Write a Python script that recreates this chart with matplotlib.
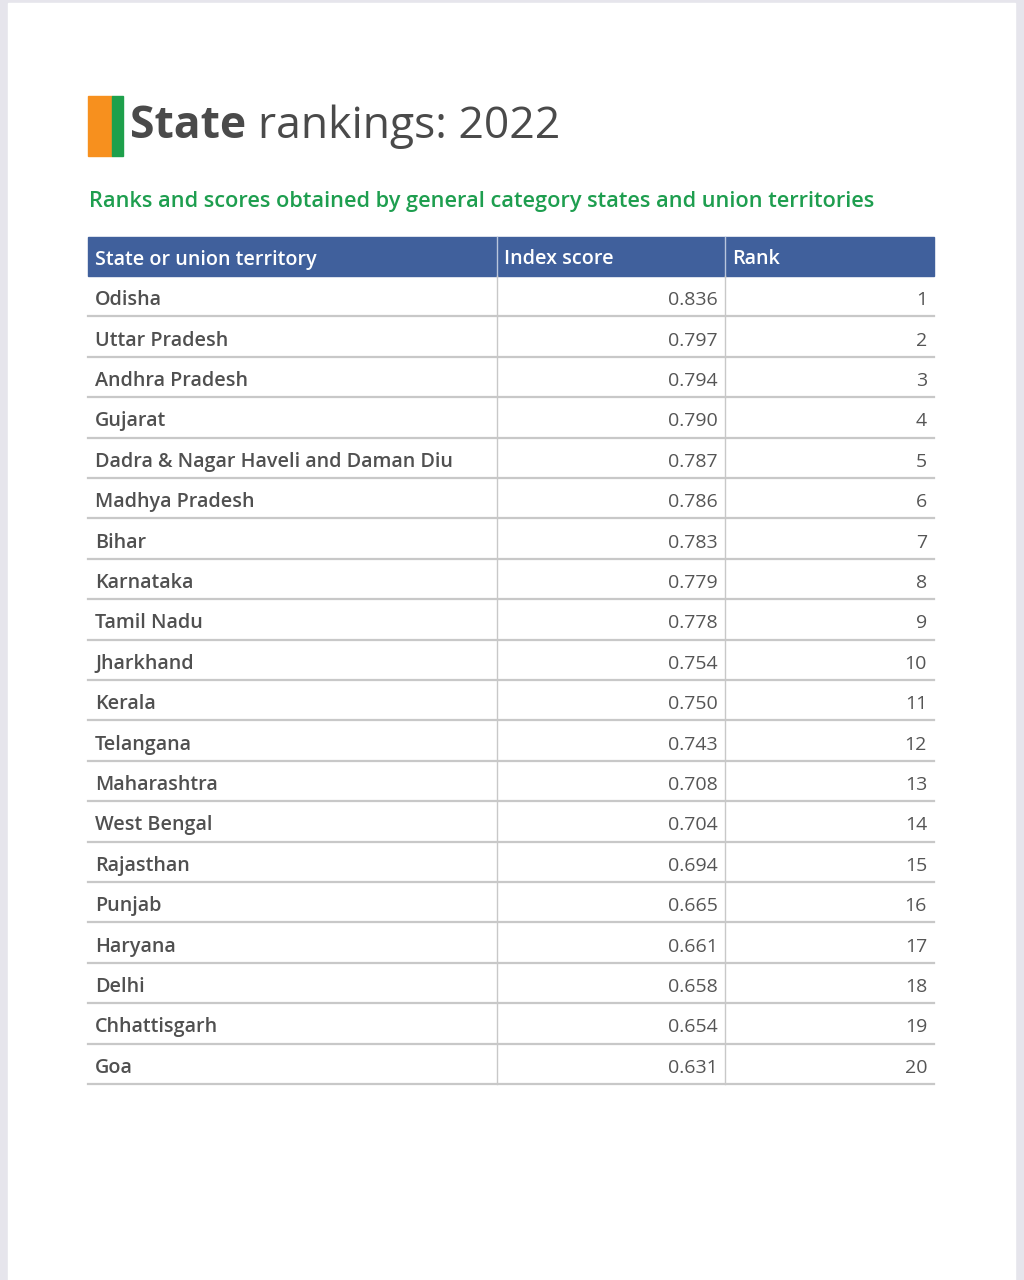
import matplotlib.pyplot as plt
from matplotlib.patches import Rectangle

# table data
states = ["Odisha", "Uttar Pradesh", "Andhra Pradesh", "Gujarat",
          "Dadra & Nagar Haveli and Daman Diu", "Madhya Pradesh", "Bihar",
          "Karnataka", "Tamil Nadu", "Jharkhand", "Kerala", "Telangana",
          "Maharashtra", "West Bengal", "Rajasthan", "Punjab", "Haryana",
          "Delhi", "Chhattisgarh", "Goa"]
scores = ["0.836", "0.797", "0.794", "0.790", "0.787", "0.786", "0.783",
          "0.779", "0.778", "0.754", "0.750", "0.743", "0.708", "0.704",
          "0.694", "0.665", "0.661", "0.658", "0.654", "0.631"]
ranks = list(range(1, 21))
headers = ["State or union territory", "Index score", "Rank"]

FONT = "Open Sans"
BLUE = "#40609c"
TXT = "#4a4a4a"

fig = plt.figure(figsize=(10.24, 12.8), dpi=100)
fig.patch.set_facecolor("#e6e5ec")
ax = fig.add_axes([0, 0, 1, 1])
ax.set_xlim(0, 1024)
ax.set_ylim(1280, 0)
ax.axis("off")

# white page
ax.add_patch(Rectangle((8, 3), 1007, 1290, color="white", zorder=0))

# flag bar + title
ax.add_patch(Rectangle((88, 96), 24, 60, color="#f7901e"))
ax.add_patch(Rectangle((112, 96), 11, 60, color="#1ea04b"))
t = ax.text(130, 127, "State", fontsize=32, fontweight="bold", color=TXT,
            family=FONT, va="center")
fig.canvas.draw()
bb = t.get_window_extent()
ax.text(bb.x1 + 12, 127, "rankings: 2022", fontsize=32, color=TXT,
        family=FONT, va="center")
ax.text(89, 202, "Ranks and scores obtained by general category states and union territories",
        fontsize=15.7, fontweight="semibold", color="#1e9e4f", family=FONT, va="center")

# table geometry
left, c1, c2, right = 88, 497, 725, 934
top, head_h = 237, 39
row_h = (1084 - 276) / len(states)

ax.add_patch(Rectangle((left, top), right - left, head_h, color=BLUE))
for x, h in zip([left, c1, c2], headers):
    ax.text(x + 7, top + head_h / 2 + 3, h, fontsize=14.2, color="white",
            family=FONT, va="center", fontweight="semibold")
for x in (c1, c2):
    ax.plot([x, x], [top, top + head_h], color="#b9c6dd", lw=1)

y0 = top + head_h
for i, (s, sc, r) in enumerate(zip(states, scores, ranks)):
    ym = y0 + row_h * (i + 0.5) + 4
    ax.text(left + 7, ym, s, fontsize=14.2, color="#505050", family=FONT,
            va="center", fontweight="semibold")
    ax.text(c2 - 7, ym, sc, fontsize=14, color="#555555", family=FONT,
            va="center", ha="right")
    ax.text(right - 7, ym, str(r), fontsize=14, color="#555555", family=FONT,
            va="center", ha="right")
    yb = y0 + row_h * (i + 1)
    ax.plot([left, right], [yb, yb], color="#c8c8c8", lw=1.6)

for x in (c1, c2):
    ax.plot([x, x], [y0, y0 + row_h * len(states)], color="#c8c8c8", lw=1)

fig.savefig("out.png", dpi=100, facecolor=fig.get_facecolor())
